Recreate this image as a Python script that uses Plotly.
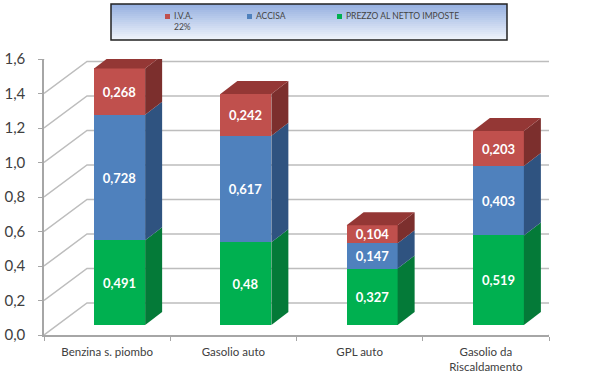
import plotly.graph_objects as go

categories = ["Benzina s. piombo", "Gasolio auto", "GPL auto", "Gasolio da<br>Riscaldamento"]
prezzo = [0.491, 0.48, 0.327, 0.519]
accisa = [0.728, 0.617, 0.147, 0.403]
iva = [0.268, 0.242, 0.104, 0.203]
y_ticks = [0.0, 0.2, 0.4, 0.6, 0.8, 1.0, 1.2, 1.4, 1.6]

W, H = 599, 374
L, R, T, B = 44, 549, 59, 335
ux = (R - L) / 4
uy = (B - T) / 1.6
idx = list(range(len(categories)))

def fmt(v):
    return f"{v:g}".replace(".", ",")

def px(x):
    return (x - L) / (R - L)

def py(y):
    return (B - y) / (B - T)

fig = go.Figure()

# wall and floor lines, in value units on the front axis
wall_dx = 43 / ux
wall_dy = 32 / uy
GRID = "#bdbdbd"
for v in y_ticks:
    fig.add_trace(go.Scatter(
        x=[-0.5, -0.5 + wall_dx, 3.5 + wall_dx], y=[v, v + wall_dy, v + wall_dy],
        mode="lines", line=dict(color=GRID, width=1.5), cliponaxis=False,
        hoverinfo="skip", showlegend=False))
fig.add_trace(go.Scatter(
    x=[3.5, 3.5 + wall_dx], y=[0, wall_dy], mode="lines",
    line=dict(color=GRID, width=1.5), cliponaxis=False,
    hoverinfo="skip", showlegend=False))

# bars
bar_w = 51 / ux
depth_x = 17 / ux
depth_y = 13 / uy
series = [
    ("PREZZO AL NETTO IMPOSTE", prezzo, "#00b050", "#047a38"),
    ("ACCISA", accisa, "#4f81bd", "#2f5380"),
    ("I.V.A. 22%", iva, "#c0504d", "#7c2f2d"),
]
base = [0.0] * 4
for name, vals, front, side in series:
    fig.add_trace(go.Bar(
        x=idx, y=vals, base=base, width=bar_w, name=name, xaxis="x2", yaxis="y2",
        marker=dict(color=front, line=dict(width=0)),
        text=[fmt(v) for v in vals], textposition="inside", insidetextanchor="middle",
        textangle=0, constraintext="none",
        textfont=dict(family="Lato", size=13, color="white", weight="bold"),
        showlegend=False))
    for i in idx:
        x1 = i + bar_w / 2
        y0, y1 = base[i], base[i] + vals[i]
        fig.add_trace(go.Scatter(
            x=[x1, x1 + depth_x, x1 + depth_x, x1, x1],
            y=[y0, y0 + depth_y, y1 + depth_y, y1, y0],
            xaxis="x2", yaxis="y2", mode="lines", fill="toself", fillcolor=side,
            line=dict(width=0, color=side), hoverinfo="skip", showlegend=False))
    base = [b + v for b, v in zip(base, vals)]

# top caps
for i in idx:
    x0, x1 = i - bar_w / 2, i + bar_w / 2
    fig.add_trace(go.Scatter(
        x=[x0, x1, x1 + depth_x, x0 + depth_x, x0],
        y=[base[i], base[i], base[i] + depth_y, base[i] + depth_y, base[i]],
        xaxis="x2", yaxis="y2", mode="lines", fill="toself", fillcolor="#943735",
        line=dict(width=0, color="#943735"), hoverinfo="skip", showlegend=False))

# legend box with vertical gradient
shapes = []
box_l, box_r, box_t, box_b = 111, 507, 4, 40
n = 18
c0, c1 = (150, 176, 224), (238, 243, 251)
for k in range(n):
    f = k / (n - 1)
    col = tuple(round(a + (b - a) * f) for a, b in zip(c0, c1))
    yt = box_t + (box_b - box_t) * k / n
    yb = box_t + (box_b - box_t) * (k + 1) / n
    shapes.append(dict(type="rect", xref="paper", yref="paper", layer="above",
                       x0=px(box_l), x1=px(box_r), y0=py(yb), y1=py(yt),
                       fillcolor=f"rgb{col}", line=dict(width=0)))
shapes.append(dict(type="rect", xref="paper", yref="paper", layer="above",
                   x0=px(box_l), x1=px(box_r), y0=py(box_b), y1=py(box_t),
                   line=dict(color="#222222", width=1.5)))

legend_items = [("I.V.A.<br>22%", 173, "#c0504d"), ("ACCISA", 255, "#4f81bd"),
                ("PREZZO AL NETTO IMPOSTE", 345, "#00b050")]
annotations = []
for label, lx, col in legend_items:
    shapes.append(dict(type="rect", xref="paper", yref="paper", layer="above",
                       x0=px(lx - 8), x1=px(lx - 3), y0=py(19), y1=py(14),
                       fillcolor=col, line=dict(width=0)))
    annotations.append(dict(text=label, xref="paper", yref="paper", x=px(lx), y=py(10),
                            xanchor="left", yanchor="top", align="left", showarrow=False,
                            borderpad=0, font=dict(family="Lato", size=8.5, color="#444444")))

fig.update_layout(
    width=W, height=H, autosize=False, bargap=0, barmode="overlay",
    separators=",.", paper_bgcolor="white", plot_bgcolor="white",
    margin=dict(l=L, r=W - R, t=T, b=H - B, pad=0, autoexpand=False),
    shapes=shapes, annotations=annotations, showlegend=False,
    xaxis=dict(range=[-0.5, 3.5], tickmode="array", tickvals=idx, ticktext=categories,
               ticks="", showgrid=False, zeroline=False, showline=True, automargin=False,
               linecolor="#a6a6a6", linewidth=1.5, ticklabelstandoff=5,
               tickfont=dict(family="Lato", size=11.5, color="#404040"),
               minor=dict(tick0=-0.5, dtick=1, ticks="outside", ticklen=4,
                          tickcolor="#a6a6a6", showgrid=False)),
    yaxis=dict(range=[0, 1.6], tickmode="array", tickvals=y_ticks, tickformat=".1f",
               ticks="outside", ticklen=4, tickcolor="#a6a6a6", showgrid=False,
               zeroline=False, showline=True, linecolor="#a6a6a6", linewidth=1.5,
               automargin=False, ticklabelstandoff=10,
               tickfont=dict(family="Lato", size=15, color="#404040")),
    xaxis2=dict(overlaying="x", range=[-0.5 - 12.5 / ux, 3.5 - 12.5 / ux], visible=False,
                showgrid=False, zeroline=False),
    yaxis2=dict(overlaying="y", range=[-10 / uy, (325 - T) / uy], visible=False,
                showgrid=False, zeroline=False),
)
fig.write_html("out.html", config={"displayModeBar": False},
               post_script="document.body.style.margin='0';")
